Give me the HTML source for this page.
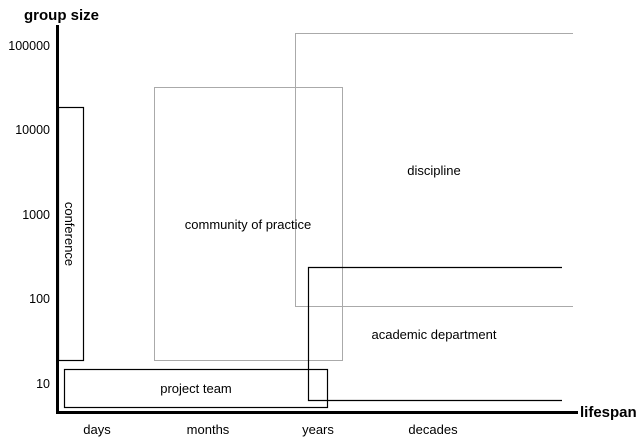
<!DOCTYPE html>
<html><head><style>body{margin:0;background:#fff}</style></head><body>
<svg width="644" height="444" xmlns="http://www.w3.org/2000/svg" style="display:block;font-family:'Liberation Sans',sans-serif">
<rect width="644" height="444" fill="#fff"/>
<g fill="none" stroke="#aaa" stroke-width="1">
<rect x="154.5" y="87.5" width="188" height="273"/>
<path d="M573 33.5H295.5V306.5H573"/>
</g>
<g fill="none" stroke="#000" stroke-width="1.2">
<rect x="58.5" y="107.5" width="25" height="253"/>
<rect x="64.5" y="369.5" width="263" height="38"/>
<path d="M562 267.5H308.5V400.5H562"/>
</g>
<path d="M57.5 25V412.5H578" fill="none" stroke="#000" stroke-width="3"/>
<text x="24" y="20" font-size="15" font-weight="bold">group size</text>
<text x="580" y="417" font-size="15" font-weight="bold">lifespan</text>
<g font-size="12.5" text-anchor="end">
<text x="50" y="50">100000</text>
<text x="50" y="134">10000</text>
<text x="50" y="219">1000</text>
<text x="50" y="303">100</text>
<text x="50" y="388">10</text>
</g>
<g font-size="13" text-anchor="middle">
<text x="97" y="434">days</text>
<text x="208" y="434">months</text>
<text x="318" y="434">years</text>
<text x="433" y="434">decades</text>
<text x="248" y="229">community of practice</text>
<text x="434" y="175">discipline</text>
<text x="434" y="339">academic department</text>
<text x="196" y="393">project team</text>
<text transform="translate(65,234) rotate(90)">conference</text>
</g>
</svg>
</body></html>
